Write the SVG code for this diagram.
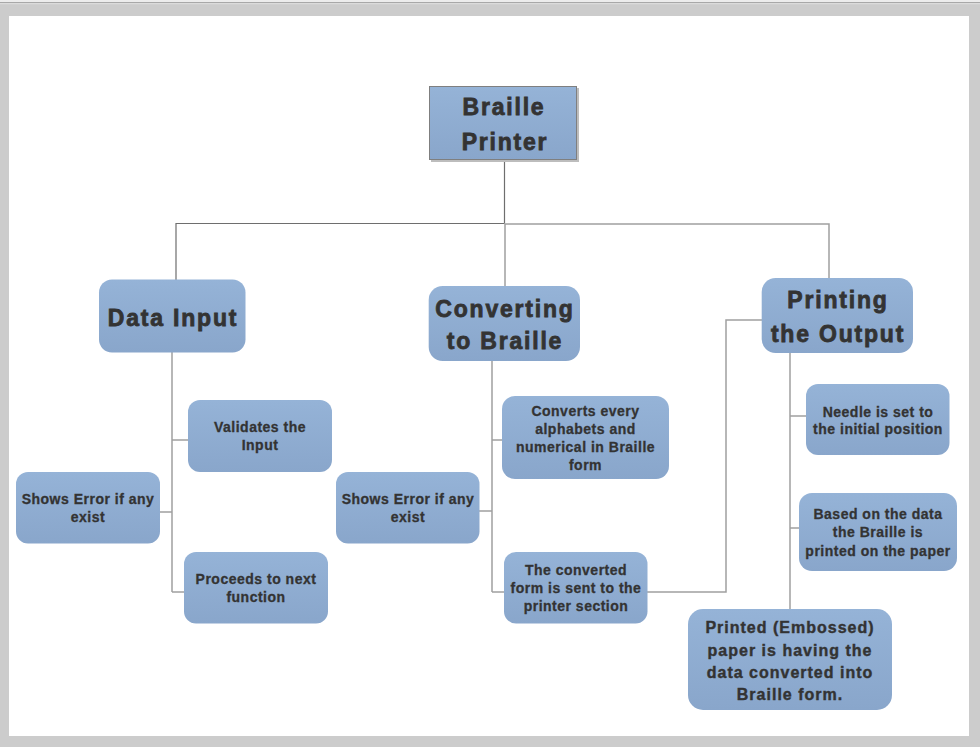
<svg xmlns="http://www.w3.org/2000/svg" width="980" height="747" viewBox="0 0 980 747">
<defs>
<linearGradient id="g" x1="0" y1="0" x2="0" y2="1">
<stop offset="0" stop-color="#95b3d7"/>
<stop offset="1" stop-color="#89a6cb"/>
</linearGradient>
<style>
.box{fill:url(#g);}
.big{font-family:"Liberation Sans",Arial,sans-serif;font-weight:bold;font-size:23px;letter-spacing:1.8px;fill:#333333;stroke:#333333;stroke-width:0.8px;text-anchor:middle;}
.sm{font-family:"Liberation Sans",Arial,sans-serif;font-weight:bold;font-size:14px;letter-spacing:0.5px;fill:#333333;stroke:#333333;stroke-width:0.3px;text-anchor:middle;}
.md{font-family:"Liberation Sans",Arial,sans-serif;font-weight:bold;font-size:16px;letter-spacing:1px;fill:#333333;stroke:#333333;stroke-width:0.4px;text-anchor:middle;}
.ln{fill:none;stroke:#a0a0a0;stroke-width:1.5;}
.lnd{fill:none;stroke:#6e6e6e;stroke-width:1.2;}
</style>
</defs>
<rect x="0" y="0" width="980" height="747" fill="#cccccc"/>
<rect x="0" y="0" width="980" height="2" fill="#ececec"/>
<rect x="0" y="2" width="980" height="1.2" fill="#a8a8a8"/>
<rect x="0" y="3.2" width="980" height="1" fill="#e0e0e0"/>
<rect x="9" y="16" width="960" height="720" fill="#ffffff"/>

<g id="connectors">
<path class="lnd" d="M504.5 160 V223.5 M176 280 V223.5 H504.5"/>
<path class="ln" d="M504.5 224 H829 V278 M505 224 V286"/>
<path class="ln" d="M172 352 V592 M172 440 H188 M160 512 H172 M172 592 H184"/>
<path class="ln" d="M492 361 V592 M492 440 H502 M479 511 H492 M492 592 H504"/>
<path class="ln" d="M647 592 H726 V320 H762"/>
<path class="ln" d="M790 353 V609 M790 416 H806 M790 528 H799"/>
</g>

<g id="braille-printer">
<rect x="431" y="88" width="148" height="74" fill="#bdbdbd"/>
<rect x="429.5" y="86.5" width="147" height="73" class="box" stroke="#7f7f7f" stroke-width="1"/>
<text class="big" x="504" y="115">Braille</text>
<text class="big" x="505" y="150">Printer</text>
</g>

<g id="data-input">
<rect x="99" y="279.5" width="146.5" height="73" rx="13" class="box"/>
<text class="big" x="173" y="326">Data Input</text>
</g>

<g id="validates">
<rect x="188" y="400" width="144" height="72" rx="12" class="box"/>
<text class="sm" x="260" y="432">Validates the</text>
<text class="sm" x="260" y="450">Input</text>
</g>

<g id="error-left">
<rect x="16" y="472" width="144" height="71.5" rx="12" class="box"/>
<text class="sm" x="88" y="504">Shows Error if any</text>
<text class="sm" x="88" y="522">exist</text>
</g>

<g id="proceeds">
<rect x="184" y="552" width="144" height="71.5" rx="12" class="box"/>
<text class="sm" x="256" y="584">Proceeds to next</text>
<text class="sm" x="256" y="602">function</text>
</g>

<g id="converting">
<rect x="428.7" y="286" width="151.3" height="75" rx="14" class="box"/>
<text class="big" x="505" y="317">Converting</text>
<text class="big" x="505" y="349">to Braille</text>
</g>

<g id="converts">
<rect x="502" y="396" width="167" height="83" rx="13" class="box"/>
<text class="sm" x="585.5" y="416">Converts every</text>
<text class="sm" x="585.5" y="434">alphabets and</text>
<text class="sm" x="585.5" y="452">numerical in Braille</text>
<text class="sm" x="585.5" y="470">form</text>
</g>

<g id="error-middle">
<rect x="336" y="472" width="143.5" height="71.5" rx="12" class="box"/>
<text class="sm" x="408" y="504">Shows Error if any</text>
<text class="sm" x="408" y="522">exist</text>
</g>

<g id="converted-sent">
<rect x="504" y="552" width="143.5" height="71.5" rx="12" class="box"/>
<text class="sm" x="576" y="575">The converted</text>
<text class="sm" x="576" y="593">form is sent to the</text>
<text class="sm" x="576" y="611">printer section</text>
</g>

<g id="printing-output">
<rect x="761.7" y="278" width="151.3" height="75" rx="14" class="box"/>
<text class="big" x="838" y="308">Printing</text>
<text class="big" x="838" y="342">the Output</text>
</g>

<g id="needle">
<rect x="806" y="384" width="143.5" height="71" rx="12" class="box"/>
<text class="sm" x="878" y="417">Needle is set to</text>
<text class="sm" x="878" y="434">the initial position</text>
</g>

<g id="based">
<rect x="799" y="493" width="158" height="78" rx="13" class="box"/>
<text class="sm" x="878" y="519">Based on the data</text>
<text class="sm" x="878" y="537">the Braille is</text>
<text class="sm" x="878" y="556">printed on the paper</text>
</g>

<g id="printed-paper">
<rect x="688" y="609" width="204" height="101" rx="15" class="box"/>
<text class="md" x="790" y="633">Printed (Embossed)</text>
<text class="md" x="790" y="655.5">paper is having the</text>
<text class="md" x="790" y="678">data converted into</text>
<text class="md" x="790" y="700">Braille form.</text>
</g>
</svg>
